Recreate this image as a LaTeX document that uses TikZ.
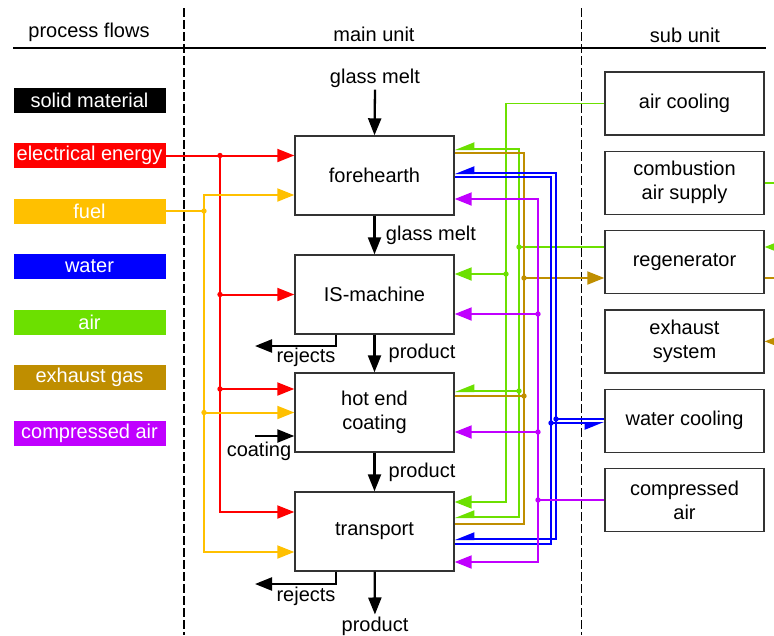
\documentclass[tikz,border=0pt]{standalone}
\usepackage{fontspec}
\setmainfont{Liberation Sans}
\usetikzlibrary{arrows.meta}

\definecolor{elec}{RGB}{255,0,0}
\definecolor{fuel}{RGB}{255,192,0}
\definecolor{water}{RGB}{0,0,255}
\definecolor{air}{RGB}{108,224,0}
\definecolor{exh}{RGB}{191,142,0}
\definecolor{cair}{RGB}{192,0,255}

\begin{document}
\begin{tikzpicture}[x=1pt,y=1pt,yscale=-1,xscale=1,
	every node/.style={font=\fontsize{20}{24}\selectfont, inner sep=2pt},
	mainbox/.style={draw=black!80, line width=1.4pt, minimum width=159pt, minimum height=79pt, align=center, inner sep=0pt},
	subbox/.style={draw=black!80, line width=1.4pt, minimum width=159pt, minimum height=63pt, align=center, inner sep=0pt},
	flowkey/.style={fill=#1, text=white, minimum width=152pt, minimum height=25pt, inner sep=0pt},
	arr/.style={-{Stealth[inset=0pt,length=17pt,width=13pt]}},
	halfarr/.style={-{Stealth[inset=0pt,length=17pt,width=13pt,harpoon,swap]}},
	flow/.style={draw=#1, line width=2pt},
	solidflow/.style={draw=black, line width=2.3pt},
	sep/.style={draw=black, line width=1.1pt, dash pattern=on 9pt off 3pt}
	]
	\useasboundingbox (0,0) rectangle (774,635);
	
	%Straight Lines: columns
	\draw[sep] (184,8) -- (184,635);
	\draw[sep] (581.5,8) -- (581.5,635);
	\draw[line width=1.2pt] (13,48) -- (766,48);
	
	% Text Node
	\node (hFlows) at (89,32) {process flows};
	% Text Node
	\node (hMain) at (374,34) {main unit};
	% Text Node
	\node (hSub) at (685,35) {sub unit};
	
	%Shape: Rectangle (legend)
	\node[flowkey=black] (kSolid) at (89.5,100) {solid material};
	\node[flowkey=elec] (kElec) at (89.5,155.5) {electrical energy};
	\node[flowkey=fuel] (kFuel) at (89.5,211) {fuel};
	\node[flowkey=water] (kWater) at (89.5,266.5) {water};
	\node[flowkey=air] (kAir) at (89.5,322) {air};
	\node[flowkey=exh] (kExh) at (89.5,377.5) {exhaust gas};
	\node[flowkey=cair] (kCair) at (89.5,433) {compressed air};
	
	%Shape: Rectangle (main unit)
	\node[mainbox] (fh) at (374.5,175.5) {forehearth};
	\node[mainbox] (is) at (374.5,294.5) {IS-machine};
	\node[mainbox] (hec) at (374.5,412.5) {hot end\\coating};
	\node[mainbox] (tr) at (374.5,531.5) {transport};
	
	%Shape: Rectangle (sub unit)
	\node[subbox] (ac) at (684.5,103.5) {air cooling};
	\node[subbox] (cas) at (684.5,182.8) {combustion\\air supply};
	\node[subbox] (rg) at (684.5,262.1) {regenerator};
	\node[subbox] (exs) at (684.5,341.4) {exhaust\\system};
	\node[subbox] (wc) at (684.5,420.7) {water cooling};
	\node[subbox] (ca) at (684.5,500) {compressed\\air};
	
	% Text Node
	\node (gm) at (375,78) {glass melt};
	% Text Node
	\node (gm2) at (431,235) {glass melt};
	% Text Node
	\node (pr1) at (422,353) {product};
	% Text Node
	\node (pr2) at (422,472) {product};
	% Text Node
	\node (pr3) at (375,626) {product};
	% Text Node
	\node (rj1) at (306,357) {rejects};
	% Text Node
	\node (rj2) at (306,596) {rejects};
	% Text Node
	\node (coat) at (259,451) {coating};
	
	\coordinate (rjEnd1) at (255,346);
	\coordinate (rjEnd2) at (255,584);
	\coordinate (coatIn) at (255,436);
	
	%Straight Lines: solid material
	\draw[solidflow,arr] (gm.south) -- (fh.north);
	\draw[solidflow,arr] (fh) -- (is);
	\draw[solidflow,arr] (is) -- (hec);
	\draw[solidflow,arr] (hec) -- (tr);
	\draw[solidflow,arr] (tr) -- (pr3);
	\draw[solidflow,arr] (is.south -| 336,0) |- (rjEnd1);
	\draw[solidflow,arr] (tr.south -| 336,0) |- (rjEnd2);
	\draw[solidflow,arr] (coatIn) -- (hec.west |- coatIn);
	
	%Straight Lines: electrical energy
	\coordinate (eJ1) at (220,155.5);
	\coordinate (eJ2) at (220,294.5);
	\coordinate (eJ3) at (220,389);
	\draw[flow=elec,arr] (kElec.east) -- (fh.west |- kElec);
	\draw[flow=elec,arr] (eJ1) |- (tr.west |- 0,512);
	\draw[flow=elec,arr] (eJ2) -- (is.west |- eJ2);
	\draw[flow=elec,arr] (eJ3) -- (hec.west |- eJ3);
	\foreach \j in {eJ1,eJ2,eJ3} \fill[elec] (\j) circle (2.7pt);
	
	%Straight Lines: fuel
	\coordinate (fJ1) at (204,211);
	\coordinate (fJ2) at (204,412.5);
	\draw[flow=fuel] (kFuel.east) -- (fJ1);
	\draw[flow=fuel,arr] (fJ1) |- (fh.west |- 0,195);
	\draw[flow=fuel,arr] (fJ1) |- (tr.west |- 0,552);
	\draw[flow=fuel,arr] (fJ2) -- (hec.west);
	\foreach \j in {fJ1,fJ2} \fill[fuel] (\j) circle (2.7pt);
	
	%Straight Lines: air from air cooling
	\coordinate (aJ1) at (506,274);
	\draw[flow=air,line width=1.6pt,arr] (ac.west) -| (aJ1) |- (tr.east |- 0,502);
	\draw[flow=air,arr] (aJ1) -- (is.east |- aJ1);
	\fill[air] (aJ1) circle (2.7pt);
	
	%Straight Lines: air from regenerator
	\coordinate (rJ1) at (519,247);
	\coordinate (rJ2) at (519,391);
	\draw[flow=air] (rg.west |- rJ1) -- (rJ1);
	\draw[flow=air,halfarr] (rJ1) |- (fh.east |- 0,149);
	\draw[flow=air,halfarr] (rJ1) |- (tr.east |- 0,517);
	\draw[flow=air,halfarr] (rJ2) -- (hec.east |- rJ2);
	\foreach \j in {rJ1,rJ2} \fill[air] (\j) circle (2.7pt);
	
	%Straight Lines: exhaust gas
	\coordinate (xJ1) at (524,278);
	\coordinate (xJ2) at (524,396);
	\draw[flow=exh] (fh.east |- 0,153) -| (xJ1) |- (tr.east |- 0,524);
	\draw[flow=exh] (hec.east |- xJ2) -- (xJ2);
	\draw[flow=exh,arr] (xJ1) -- (rg.west |- xJ1);
	\foreach \j in {xJ1,xJ2} \fill[exh] (\j) circle (2.7pt);
	
	%Straight Lines: water
	\coordinate (wJ1) at (556,419);
	\coordinate (wJ2) at (551,423);
	\draw[flow=water] (wc.west |- wJ1) -- (wJ1);
	\draw[flow=water,halfarr] (wJ1) |- (fh.east |- 0,173);
	\draw[flow=water,halfarr] (wJ1) |- (tr.east |- 0,539);
	\draw[flow=water] (fh.east |- 0,177) -| (wJ2);
	\draw[flow=water] (tr.east |- 0,544) -| (wJ2);
	\draw[flow=water,halfarr] (wJ2) -- (wc.west |- wJ2);
	\foreach \j in {wJ1,wJ2} \fill[water] (\j) circle (2.7pt);
	
	%Straight Lines: compressed air
	\coordinate (cJ1) at (538,500);
	\coordinate (cJ2) at (538,314);
	\coordinate (cJ3) at (538,432);
	\draw[flow=cair] (ca.west) -- (cJ1);
	\draw[flow=cair,arr] (cJ1) |- (fh.east |- 0,199);
	\draw[flow=cair,arr] (cJ1) |- (tr.east |- 0,562);
	\draw[flow=cair,arr] (cJ2) -- (is.east |- cJ2);
	\draw[flow=cair,arr] (cJ3) -- (hec.east |- cJ3);
	\foreach \j in {cJ1,cJ2,cJ3} \fill[cair] (\j) circle (2.7pt);
	
	%Straight Lines: loops beyond the right edge
	\coordinate (loopA) at (795,247);
	\coordinate (loopX) at (788,341.4);
	\draw[flow=air,arr] (cas.east) -| (loopA) -- (rg.east |- loopA);
	\draw[flow=exh,arr] (rg.east |- 0,278) -| (loopX) -- (exs.east);
\end{tikzpicture}
\end{document}
